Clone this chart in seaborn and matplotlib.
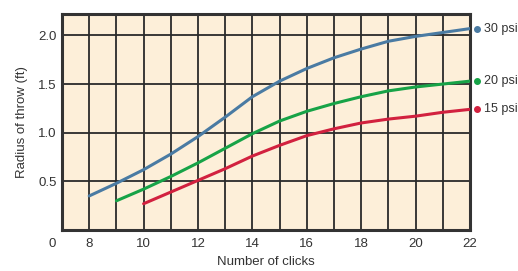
import numpy as np
import pandas as pd
import matplotlib
matplotlib.use("Agg")
import matplotlib.pyplot as plt
import seaborn as sns

# Radius of throw
clicks_30 = [8, 9, 10, 11, 12, 13, 14, 15, 16, 17, 18, 19, 20, 21, 22]
radius_30 = [0.35, 0.48, 0.62, 0.78, 0.96, 1.16, 1.37, 1.53, 1.66, 1.77, 1.86, 1.94, 1.99, 2.03, 2.07]
clicks_20 = [9, 10, 11, 12, 13, 14, 15, 16, 17, 18, 19, 20, 21, 22]
radius_20 = [0.30, 0.42, 0.55, 0.69, 0.84, 0.99, 1.12, 1.22, 1.30, 1.37, 1.43, 1.47, 1.50, 1.53]
clicks_15 = [10, 11, 12, 13, 14, 15, 16, 17, 18, 19, 20, 21, 22]
radius_15 = [0.27, 0.39, 0.51, 0.63, 0.76, 0.87, 0.97, 1.04, 1.10, 1.14, 1.17, 1.21, 1.24]
series_names = ["30 psi", "20 psi", "15 psi"]
colors = ["#4a7ba3", "#17a347", "#d2213f"]

df = pd.concat([
    pd.DataFrame({"clicks": clicks_30, "radius": radius_30, "pressure": "30 psi"}),
    pd.DataFrame({"clicks": clicks_20, "radius": radius_20, "pressure": "20 psi"}),
    pd.DataFrame({"clicks": clicks_15, "radius": radius_15, "pressure": "15 psi"}),
])

sns.set_style("white")
plt.rcParams["font.family"] = ["Liberation Sans", "DejaVu Sans"]
fs = 9.5

fig = plt.figure(figsize=(5.18, 2.71), dpi=100)
ax = fig.add_axes([0.1197, 0.1513, 0.7876, 0.797])
ax.set_facecolor("#fdefd9")

sns.lineplot(data=df, x="clicks", y="radius", hue="pressure", hue_order=series_names,
             palette=colors, linewidth=2.2, legend=False, ax=ax, zorder=3)

ax.set_xlim(7, 22)
ax.set_ylim(0, 2.22)
ax.set_xticks(range(8, 23, 2))
ax.set_yticks([0.5, 1.0, 1.5, 2.0])
ax.set_xticks(range(8, 23), minor=True)
ax.grid(True, which="both", axis="x", color="#2a2a2a", linewidth=1.3)
ax.grid(True, which="major", axis="y", color="#2a2a2a", linewidth=1.3)
ax.set_axisbelow(True)
ax.tick_params(axis="both", which="both", length=0, labelsize=fs, colors="#333333")
ax.tick_params(axis="x", pad=6)
ax.tick_params(axis="y", pad=4)
for sp in ax.spines.values():
    sp.set_color("#333333")
    sp.set_linewidth(2.2)

ax.set_xlabel("Number of clicks", fontsize=fs, color="#333333", labelpad=4)
ax.set_ylabel("Radius of throw (ft)", fontsize=fs, color="#333333", labelpad=7)
ax.text(-0.025, -0.035, "0", transform=ax.transAxes, ha="center", va="top",
        fontsize=fs, color="#333333")

# end labels with dots
ends = [(clicks_30[-1], radius_30[-1]), (clicks_20[-1], radius_20[-1]), (clicks_15[-1], radius_15[-1])]
for (xe, ye), name, c in zip(ends, series_names, colors):
    ax.plot([xe + 0.27], [ye], "o", color=c, markersize=4, clip_on=False, zorder=5)
    ax.annotate(name, xy=(xe, ye), xytext=(10, 0), textcoords="offset points",
                ha="left", va="center", fontsize=9, color="#333333", annotation_clip=False)

fig.savefig("out.png", dpi=100)
